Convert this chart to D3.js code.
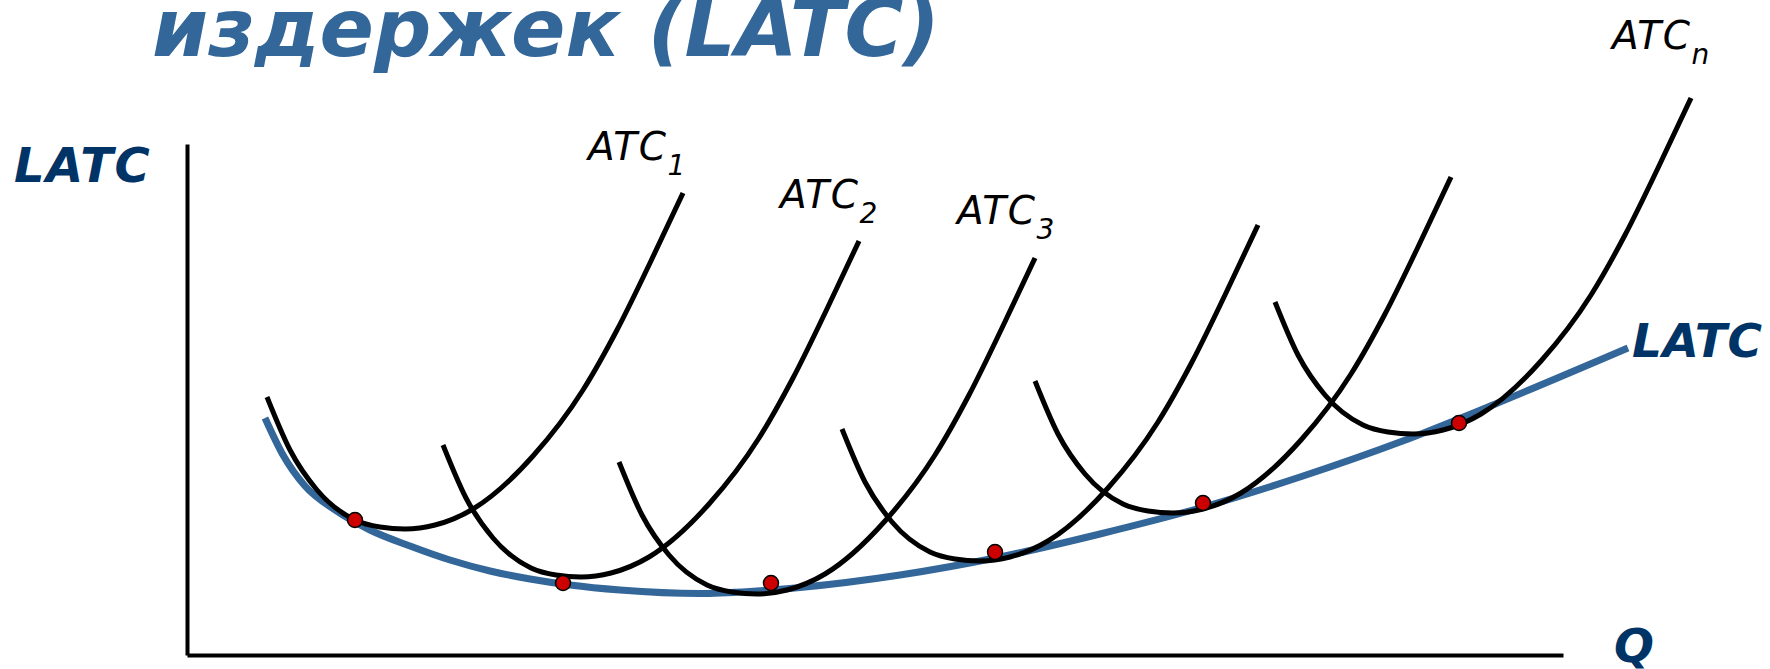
<!DOCTYPE html>
<html>
<head>
<meta charset="utf-8">
<script src="https://cdn.jsdelivr.net/npm/d3@7"></script>
<style>
  html, body { margin: 0; padding: 0; background: #fff; }
  svg { display: block; }
  text { font-family: "DejaVu Sans", Verdana, sans-serif; }
</style>
</head>
<body>
<div id="chart"></div>
<script>
// LATC envelope (Q, cost)
const latcQ = [7.8, 9.6, 11.8, 14.8, 18.3, 22.3, 26.3, 30.3, 34.3, 38.3, 43.3, 51.3, 56.3, 61.3, 71.3, 81.3, 91.3, 101.3, 111.3, 121.3, 131.3, 144.1];
const latcC = [23.7, 20.0, 16.9, 14.5, 12.5, 10.9, 9.5, 8.4, 7.6, 7.0, 6.5, 6.15, 6.35, 6.75, 8.0, 9.8, 12.1, 14.7, 17.8, 21.3, 25.3, 30.7];

// short-run ATC curves: all share one U shape, shifted to each minimum
const atcMinQ = [21.8, 39.4, 57.0, 79.3, 98.6, 122.6];
const atcMinC = [12.6, 7.8, 6.1, 9.4, 14.2, 22.1];
const atcShapeDq = [-13.8, -11.5, -8.8, -5.0, -2.5, 0, 3.0, 6.8, 12.8, 17.8, 21.2, 24.5, 27.8];
const atcShapeDc = [13.2, 7.9, 3.9, 0.9, 0.2, 0, 0.4, 2.0, 7.3, 13.9, 19.9, 26.6, 33.6];

// tangency points
const dotQ = [16.8, 37.6, 58.4, 80.8, 101.6, 127.2];
const dotC = [13.5, 7.2, 7.2, 10.3, 15.2, 23.2];

// labels
const titleText = "издержек (LATC)";
const axisLabelY = "LATC";
const axisLabelX = "Q";
const curveLabel = "LATC";
const atcNames = ["ATC", "ATC", "ATC", "ATC"];
const atcSubs = ["1", "2", "3", "n"];

const width = 1770, height = 669;
const margin = { left: 187, right: 207, top: 144, bottom: 14 };

const svg = d3.select("#chart").append("svg")
  .attr("width", width)
  .attr("height", height);

const x = d3.scaleLinear().domain([0, 137.6]).range([margin.left, width - margin.right]);
const y = d3.scaleLinear().domain([0, 51.1]).range([height - margin.bottom, margin.top]);

// axes (plain lines, no ticks)
const xAxis = d3.axisBottom(x).tickValues([]).tickSizeOuter(0);
const yAxis = d3.axisLeft(y).tickValues([]).tickSizeOuter(0);

svg.append("g")
  .attr("transform", `translate(0,${y(0)})`)
  .call(xAxis)
  .call(g => g.select(".domain").attr("stroke", "#000").attr("stroke-width", 4));

svg.append("g")
  .attr("transform", `translate(${x(0)},0)`)
  .call(yAxis)
  .call(g => g.select(".domain").attr("stroke", "#000").attr("stroke-width", 4));

// monotone keeps the bottoms of the U's flat and smooth
const line = d3.line()
  .x(d => x(d[0]))
  .y(d => y(d[1]))
  .curve(d3.curveMonotoneX);

// LATC
svg.append("path")
  .datum(latcQ.map((q, i) => [q, latcC[i]]))
  .attr("d", line)
  .attr("fill", "none")
  .attr("stroke", "#336699")
  .attr("stroke-width", 7);

// ATC curves
const atcData = atcMinQ.map((mq, k) =>
  atcShapeDq.map((dq, i) => [mq + dq, atcMinC[k] + atcShapeDc[i]]));

svg.append("g").selectAll("path")
  .data(atcData)
  .join("path")
  .attr("d", line)
  .attr("fill", "none")
  .attr("stroke", "#000")
  .attr("stroke-width", 5);

// tangency dots
svg.append("g").selectAll("circle")
  .data(dotQ.map((q, i) => [q, dotC[i]]))
  .join("circle")
  .attr("cx", d => x(d[0]))
  .attr("cy", d => y(d[1]))
  .attr("r", 7.5)
  .attr("fill", "#cc0000")
  .attr("stroke", "#000")
  .attr("stroke-width", 1.5);

// title (bottom line of a heading, its top cut by the frame as in the source)
svg.append("text")
  .attr("x", 152)
  .attr("y", 56)
  .attr("textLength", 788)
  .attr("lengthAdjust", "spacingAndGlyphs")
  .attr("font-size", 80)
  .attr("font-weight", "bold")
  .attr("font-style", "italic")
  .attr("fill", "#336699")
  .text(titleText);

// axis labels
svg.append("text")
  .attr("x", 14).attr("y", 182)
  .attr("font-size", 48).attr("font-weight", "bold").attr("font-style", "italic")
  .attr("letter-spacing", 1.5)
  .attr("fill", "#003366")
  .text(axisLabelY);

svg.append("text")
  .attr("x", 1614).attr("y", 662)
  .attr("font-size", 47).attr("font-weight", "bold").attr("font-style", "italic")
  .attr("fill", "#003366")
  .text(axisLabelX);

svg.append("text")
  .attr("x", 1632).attr("y", 357)
  .attr("font-size", 47).attr("font-weight", "bold").attr("font-style", "italic")
  .attr("letter-spacing", 0.5)
  .attr("fill", "#003366")
  .text(curveLabel);

// ATC labels
const atcLabelPos = [[588, 160], [780, 208], [957, 224], [1612, 49]];
atcNames.forEach((name, i) => {
  const t = svg.append("text")
    .attr("x", atcLabelPos[i][0])
    .attr("y", atcLabelPos[i][1])
    .attr("font-size", 39)
    .attr("font-style", "italic")
    .attr("fill", "#000");
  t.append("tspan").attr("letter-spacing", 1.5).text(name);
  t.append("tspan")
    .attr("dx", 0)
    .attr("dy", 15)
    .attr("font-size", 28)
    .text(atcSubs[i]);
});
</script>
</body>
</html>
